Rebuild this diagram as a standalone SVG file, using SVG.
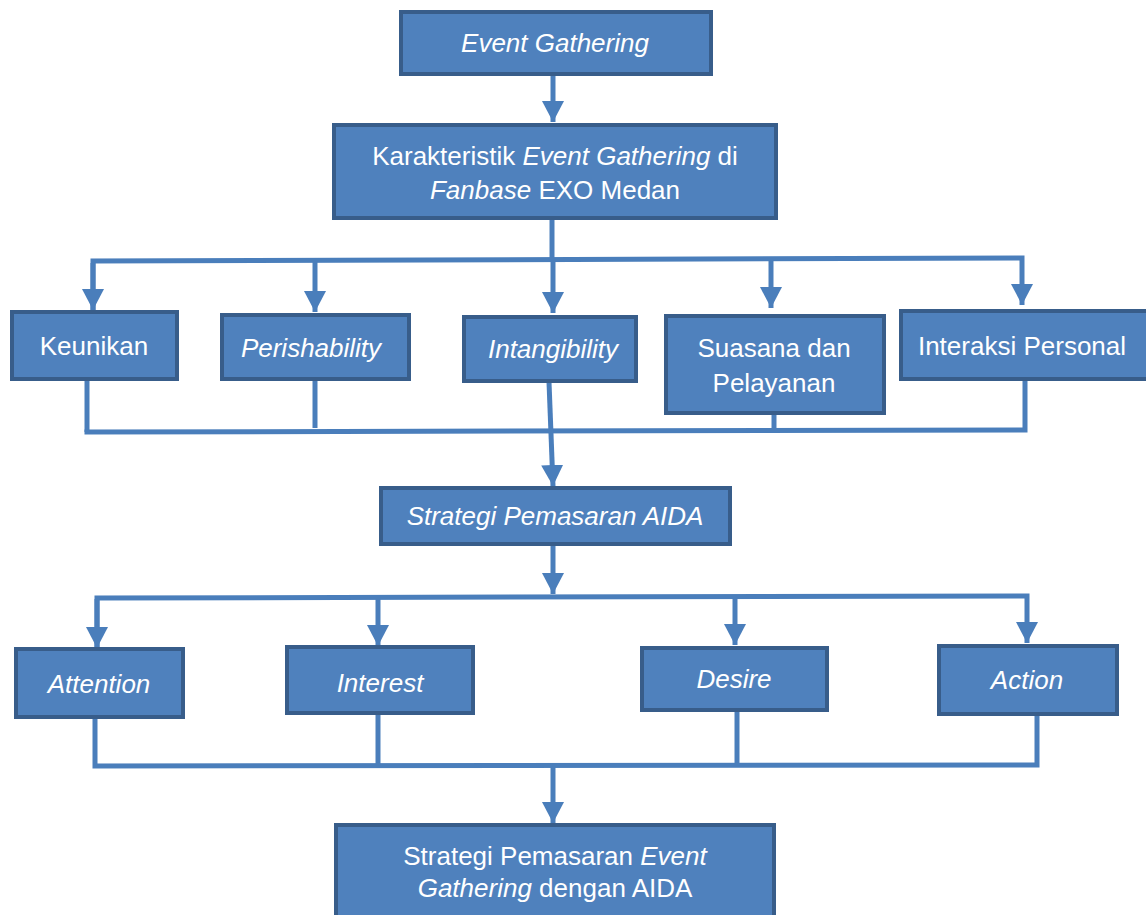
<svg xmlns="http://www.w3.org/2000/svg" width="1146" height="915" viewBox="0 0 1146 915">
<style>
.box{fill:#4F81BD;stroke:#385D8A;stroke-width:4}
.t{font-family:"Liberation Sans",Arial,sans-serif;font-size:26px;fill:#FFFFFF;text-anchor:middle}
.i{font-style:italic}
.c{fill:none;stroke:#4A7EBB;stroke-width:5}
</style>
<defs>
<marker id="ah" markerUnits="userSpaceOnUse" markerWidth="24" markerHeight="24" viewBox="0 0 24 24" refX="21" refY="12" orient="auto">
<path d="M0,1 L21,12 L0,23 z" fill="#4A7EBB"/>
</marker>
</defs>
<rect width="1146" height="915" fill="#FFFFFF"/>
<g id="connectors">
<line class="c" x1="553" y1="75" x2="553" y2="122" marker-end="url(#ah)"/>
<line class="c" x1="552" y1="219" x2="552" y2="261"/>
<polyline class="c" points="93,310 93,261 1022,258 1022,305" marker-end="url(#ah)"/>
<line class="c" x1="93" y1="263" x2="93" y2="310" marker-end="url(#ah)"/>
<line class="c" x1="315" y1="261" x2="315" y2="312" marker-end="url(#ah)"/>
<line class="c" x1="553" y1="261" x2="553" y2="313" marker-end="url(#ah)"/>
<line class="c" x1="771" y1="259" x2="771" y2="308" marker-end="url(#ah)"/>
<line class="c" x1="87" y1="380" x2="87" y2="432"/>
<line class="c" x1="315" y1="380" x2="315" y2="428"/>
<line class="c" x1="774" y1="414" x2="774" y2="428"/>
<polyline class="c" points="84.5,432 1025,430 1025,380"/>
<polyline class="c" points="549,382 553,486" marker-end="url(#ah)"/>
<line class="c" x1="553" y1="545" x2="553" y2="594" marker-end="url(#ah)"/>
<polyline class="c" points="97,647 97,598 1027,596 1027,643" marker-end="url(#ah)"/>
<line class="c" x1="378" y1="598" x2="378" y2="646" marker-end="url(#ah)"/>
<line class="c" x1="735" y1="597" x2="735" y2="645" marker-end="url(#ah)"/>
<line class="c" x1="97" y1="599" x2="97" y2="648" marker-end="url(#ah)"/>
<polyline class="c" points="95,718 95,766 1037,765 1037,715"/>
<line class="c" x1="378" y1="714" x2="378" y2="766"/>
<line class="c" x1="737" y1="711" x2="737" y2="766"/>
<line class="c" x1="553" y1="766" x2="553" y2="823" marker-end="url(#ah)"/>
</g>
<g id="n-event-gathering">
<rect class="box" x="401" y="12" width="310" height="62"/>
<text class="t i" x="555" y="52">Event Gathering</text>
</g>
<g id="n-karakteristik">
<rect class="box" x="334" y="125" width="442" height="93"/>
<text class="t" x="555" y="165">Karakteristik <tspan class="i">Event Gathering</tspan> di</text>
<text class="t" x="555" y="199"><tspan class="i">Fanbase</tspan> EXO Medan</text>
</g>
<g id="n-keunikan">
<rect class="box" x="12" y="312" width="165" height="67"/>
<text class="t" x="94" y="355">Keunikan</text>
</g>
<g id="n-perishability">
<rect class="box" x="222" y="315" width="187" height="64"/>
<text class="t i" x="311" y="357">Perishability</text>
</g>
<g id="n-intangibility">
<rect class="box" x="464" y="317" width="172" height="64"/>
<text class="t i" x="553" y="358">Intangibility</text>
</g>
<g id="n-suasana">
<rect class="box" x="666" y="316" width="218" height="97"/>
<text class="t" x="774" y="357">Suasana dan</text>
<text class="t" x="774" y="392">Pelayanan</text>
</g>
<g id="n-interaksi">
<rect class="box" x="901" y="311" width="247" height="68"/>
<text class="t" x="1022" y="355">Interaksi Personal</text>
</g>
<g id="n-aida">
<rect class="box" x="381" y="488" width="349" height="56"/>
<text class="t i" x="555" y="525">Strategi Pemasaran AIDA</text>
</g>
<g id="n-attention">
<rect class="box" x="16" y="649" width="167" height="68"/>
<text class="t i" x="99" y="693">Attention</text>
</g>
<g id="n-interest">
<rect class="box" x="287" y="647" width="186" height="66"/>
<text class="t i" x="380" y="692">Interest</text>
</g>
<g id="n-desire">
<rect class="box" x="642" y="648" width="185" height="62"/>
<text class="t i" x="734" y="688">Desire</text>
</g>
<g id="n-action">
<rect class="box" x="939" y="646" width="178" height="68"/>
<text class="t i" x="1027" y="689">Action</text>
</g>
<g id="n-final">
<rect class="box" x="336" y="825" width="438" height="94"/>
<text class="t" x="555" y="865">Strategi Pemasaran <tspan class="i">Event</tspan></text>
<text class="t" x="555" y="897"><tspan class="i">Gathering</tspan> dengan AIDA</text>
</g>
</svg>
